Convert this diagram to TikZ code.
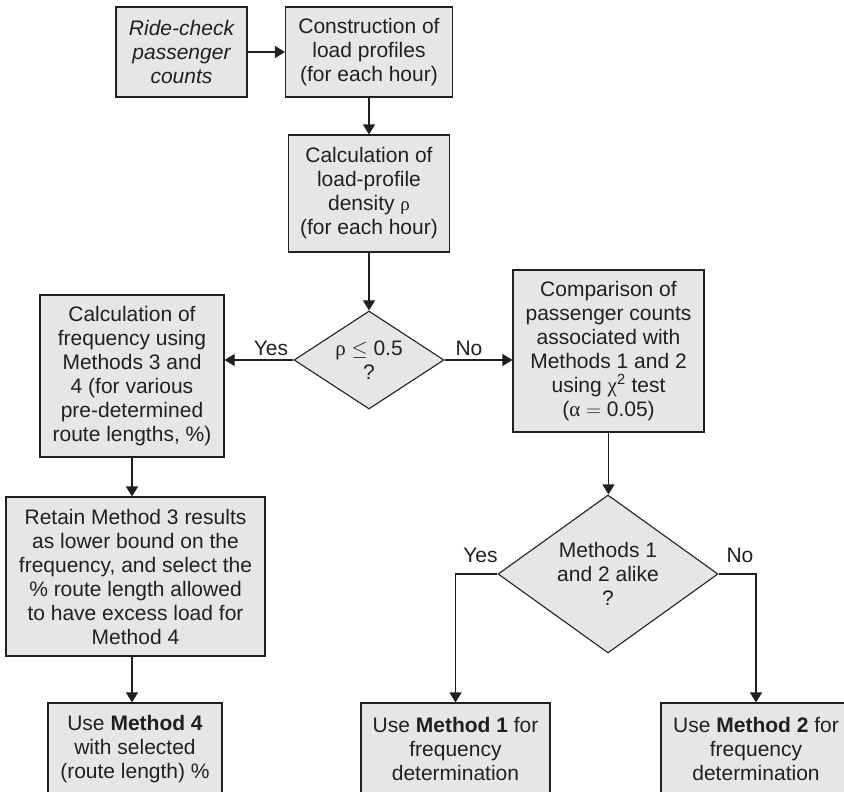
\documentclass[tikz,border=0pt]{standalone}
\usepackage{fontspec}
\setmainfont{Liberation Sans}
\newfontfamily\grk{Liberation Serif}
\usetikzlibrary{arrows.meta,shapes.geometric,calc}
\definecolor{boxfill}{RGB}{229,230,232}
\definecolor{ink}{RGB}{35,31,32}

\begin{document}
\begin{tikzpicture}[x=1pt,y=-1pt,
  every node/.style={font=\fontsize{21}{24}\selectfont, text=ink},
  proc/.style={draw=ink, fill=boxfill, line width=1.1pt, align=center, inner sep=0pt},
  decision/.style={draw=ink, fill=boxfill, line width=1.1pt, shape=diamond, align=center, inner sep=0pt},
  flow/.style={draw=ink, line width=1.1pt, -{Triangle[length=10pt,width=12pt]}},
  lbl/.style={inner sep=0pt}]

\useasboundingbox (0,0) rectangle (844,792);

% process boxes
\node[proc, minimum width=131pt, minimum height=90pt] (b1) at (181.5,52)
  {\itshape Ride-check\\\itshape passenger\\\itshape counts};
\node[proc, minimum width=167pt, minimum height=90pt] (b2) at (369,52)
  {Construction of\\load profiles\\(for each hour)};
\node[proc, minimum width=161pt, minimum height=117pt] (b3) at (369,193.5)
  {Calculation of\\load-profile\\density {\grk\fontsize{19}{24}\selectfont ρ}\\(for each hour)};

% first decision
\node[decision, minimum width=150pt, minimum height=98pt, aspect=1.53] (d1) at (369,360)
  {{\grk ρ} $\leq$ 0.5\\?};

\node[proc, minimum width=184pt, minimum height=162pt] (lbox) at (132,376)
  {Calculation of\\frequency using\\Methods 3 and\\4 (for various\\pre-determined\\route lengths, \%)};
\node[proc, minimum width=191pt, minimum height=162pt] (rbox) at (608.5,351)
  {Comparison of\\passenger counts\\associated with\\Methods 1 and 2\\using {\grk χ}\textsuperscript{2} test\\({\grk α} $=$ 0.05)};

\node[proc, minimum width=259pt, minimum height=159pt] (retain) at (135.5,576.5)
  {Retain Method 3 results\\as lower bound on the\\frequency, and select the\\\% route length allowed\\to have excess load for\\Method 4};
\node[proc, minimum width=174pt, minimum height=92pt] (m4) at (135,749)
  {Use \textbf{Method 4}\\with selected\\(route length) \%};

% second decision
\node[decision, minimum width=220pt, minimum height=158pt, aspect=1.39] (d2) at (608,574)
  {Methods 1\\and 2 alike\\?};

\node[proc, minimum width=189pt, minimum height=92pt] (m1) at (455.5,749)
  {Use \textbf{Method 1} for\\frequency\\determination};
\node[proc, minimum width=190pt, minimum height=92pt] (m2) at (756,749)
  {Use \textbf{Method 2} for\\frequency\\determination};

% branch labels
\node[lbl] (yes1) at (271,348) {Yes};
\node[lbl] (no1) at (469,348) {No};
\node[lbl] (yes2) at (480.5,555.5) {Yes};
\node[lbl] (no2) at (740,555.5) {No};

% connectors
\draw[flow] (b1) -- (b2);
\draw[flow] (b2) -- (b3);
\draw[flow] (b3) -- (d1);
\draw[flow] (d1.west) -- (d1.west -| lbox.east);
\draw[flow] (d1.east) -- (d1.east -| rbox.west);
\draw[flow] (rbox.south) -- (rbox.south |- d2.north);
\draw[flow] (lbox.south) -- (lbox.south |- retain.north);
\draw[flow] (retain.south -| lbox.south) -- (lbox.south |- m4.north);
\draw[flow] (d2.west) -| (m1.north);
\draw[flow] (d2.east) -| (m2.north);
\end{tikzpicture}
\end{document}
